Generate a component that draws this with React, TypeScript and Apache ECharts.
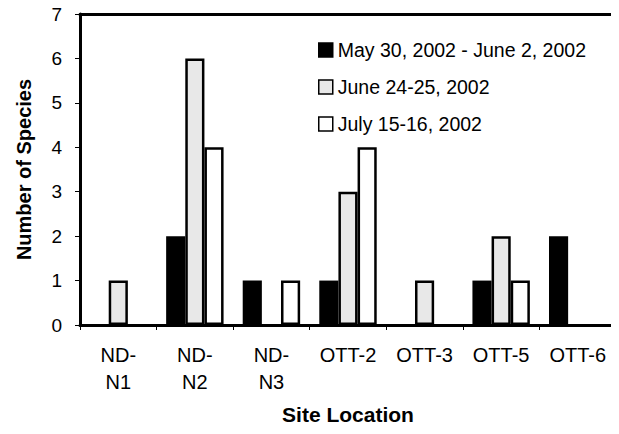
import React, { useEffect, useRef } from "react";
import * as echarts from "echarts";

const categories = ["ND-\nN1", "ND-\nN2", "ND-\nN3", "OTT-2", "OTT-3", "OTT-5", "OTT-6"];
const seriesNames = ["May 30, 2002 - June 2, 2002", "June 24-25, 2002", "July 15-16, 2002"];
const mayJune = [0, 2, 1, 1, 0, 1, 2];
const june = [1, 6, 0, 3, 1, 2, 0];
const july = [0, 4, 1, 4, 0, 1, 0];
const yTicks = [0, 1, 2, 3, 4, 5, 6, 7];

const FONT = "Liberation Sans, Arial, sans-serif";

export default function App() {
  const ref = useRef<HTMLDivElement>(null);
  useEffect(() => {
    if (!ref.current) return;
    const chart = echarts.init(ref.current, null, { renderer: "svg" });
    const fills = ["#000000", "#e8e8e8", "#ffffff"];
    const values = [mayJune, june, july];
    chart.setOption({
      animation: false,
      backgroundColor: "#ffffff",
      textStyle: { fontFamily: FONT, color: "#000" },
      grid: {
        left: 80,
        top: 14,
        right: 3,
        bottom: 109,
        show: true,
        borderColor: "#999",
        borderWidth: 1,
      },
      legend: {
        orient: "vertical",
        left: 313,
        top: 35,
        icon: "rect",
        itemWidth: 14,
        itemHeight: 14,
        itemGap: 17,
        textStyle: { fontFamily: FONT, fontSize: 19.5, color: "#000" },
        data: seriesNames.map((n) => ({ name: n, itemStyle: { borderWidth: 1.5 } })),
      },
      xAxis: [
        {
          type: "category",
          data: categories,
          position: "bottom",
          axisLine: { lineStyle: { color: "#000", width: 3 } },
          axisTick: { show: true, length: 5, lineStyle: { color: "#000", width: 1 } },
          axisLabel: {
            fontFamily: FONT,
            fontSize: 20,
            color: "#000",
            margin: 16,
            lineHeight: 27,
            interval: 0,
          },
          name: "Site Location",
          nameLocation: "middle",
          nameGap: 79,
          nameTextStyle: { fontFamily: FONT, fontSize: 21, fontWeight: "bold", color: "#000" },
        },
        {
          type: "category",
          data: categories,
          position: "top",
          axisLine: { lineStyle: { color: "#000", width: 3 } },
          axisTick: { show: false },
          axisLabel: { show: false },
        },
      ],
      yAxis: {
        type: "value",
        min: 0,
        max: 7,
        interval: 1,
        axisLine: { show: true, lineStyle: { color: "#000", width: 3 } },
        axisTick: { show: true, length: 5, lineStyle: { color: "#000", width: 1 } },
        splitLine: { show: false },
        axisLabel: {
          fontFamily: FONT,
          fontSize: 19,
          color: "#000",
          margin: 18,
          formatter: (v: number) => (yTicks.includes(v) ? String(v) : ""),
        },
        name: "Number of Species",
        nameLocation: "middle",
        nameGap: 46,
        nameTextStyle: { fontFamily: FONT, fontSize: 20, fontWeight: "bold", color: "#000" },
      },
      series: seriesNames.map((name, i) => ({
        name,
        type: "bar",
        xAxisIndex: 0,
        data: values[i].map((v) => (v === 0 ? null : v)),
        barGap: "0%",
        barCategoryGap: "25%",
        itemStyle: {
          color: fills[i],
          borderColor: "#000",
          borderWidth: i === 0 ? 0 : 2.5,
        },
        emphasis: { disabled: true },
      })),
    });
    return () => chart.dispose();
  }, []);
  return <div ref={ref} style={{ width: 619, height: 434, margin: -8 }} />;
}
